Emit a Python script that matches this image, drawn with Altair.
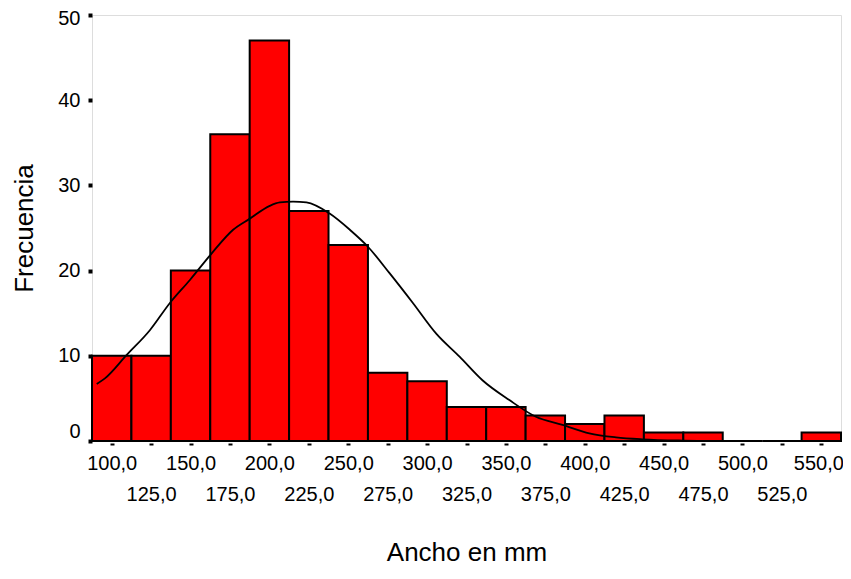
import altair as alt
import pandas as pd

# Histogram: bin centres (mm) and frequencies
bin_centers = [100, 125, 150, 175, 200, 225, 250, 275, 300, 325, 350, 375, 400, 425, 450, 475, 500, 525, 550]
counts = [10, 10, 20, 36, 47, 27, 23, 8, 7, 4, 4, 3, 2, 3, 1, 1, 0, 0, 1]
bin_width = 25

# Normal curve, points
curve_x = [90.5, 95.7, 109.5, 124.2, 136.9, 149.6, 163.3, 177, 187.6, 200.2, 206.6, 215, 223.5,
           238.2, 251, 262.5, 276.2, 291, 305.8, 320.6, 335.3, 352.2, 369, 385.9, 402.9, 419.8,
           436.7, 462, 485]
curve_y = [6.7, 7.35, 10.1, 13.0, 16.2, 18.9, 22.0, 24.8, 26.1, 27.6, 28.0, 28.1, 28.0,
           26.7, 24.8, 22.8, 19.7, 16.2, 12.6, 9.9, 7.1, 4.8, 2.85, 1.9, 0.9, 0.43,
           0.2, 0.05, 0.0]

y_ticks = [0, 10, 20, 30, 40, 50]

bars_df = pd.DataFrame({"center": bin_centers, "count": counts})
curve_df = pd.DataFrame({"x": curve_x, "y": curve_y})

FONT = "Liberation Sans"
x_scale = alt.Scale(domain=[87.5, 562.5], nice=False, zero=False)
y_scale = alt.Scale(domain=[0, 50], nice=False)

bars = alt.Chart(bars_df).transform_calculate(
    x0=f"datum.center - {bin_width}/2", x1=f"datum.center + {bin_width}/2"
).mark_rect(fill="#FF0000", stroke="black", strokeWidth=2).encode(
    x=alt.X("x0:Q", scale=x_scale,
            axis=alt.Axis(
                values=bin_centers,
                labelExpr="replace(format(datum.value, '.1f'), '.', ',')",
                domain=False, grid=False,
                tickSize=2, tickWidth=4, tickColor="black", offset=2,
                labelPadding={"condition": {"test": "datum.value % 50 != 0", "value": 39}, "value": 8},
                labelOffset={"condition": {"test": "datum.value == 550", "value": -3}, "value": 0},
                labelFont=FONT, labelFontSize=20, labelColor="black",
                title="Ancho en mm", titleFont=FONT, titleFontSize=26,
                titleFontWeight="normal", titleColor="black",
                titleBaseline="alphabetic", titleY=117,
            )),
    x2="x1:Q",
    y=alt.Y("count:Q", scale=y_scale,
            axis=alt.Axis(
                values=y_ticks, format="d", domain=False, grid=False,
                tickSize=4, tickWidth=4, tickColor="black",
                labelPadding=8, labelFont=FONT, labelFontSize=20, labelColor="black",
                labelBaseline={"condition": {"test": "datum.value == 0", "value": "bottom"}, "value": "middle"},
                labelOffset={"condition": {"test": "datum.value == 50", "value": 3}, "value": 0},
                title="Frecuencia", titleFont=FONT, titleFontSize=26,
                titleFontWeight="normal", titleColor="black",
                titleBaseline="alphabetic", titleX=-60,
            )),
    y2=alt.datum(0),
)

curve = alt.Chart(curve_df).mark_line(color="black", strokeWidth=1.8, interpolate="monotone").encode(
    x=alt.X("x:Q", scale=x_scale),
    y=alt.Y("y:Q", scale=y_scale),
)

chart = alt.layer(bars, curve).properties(
    width=749, height=426,
    autosize=alt.AutoSizeParams(type="none"),
    padding={"left": 84, "top": 7, "right": 2, "bottom": 125},
).configure_view(stroke="black", strokeWidth=2).configure(background="white")

chart.save("out.html", embed_options={"renderer": "svg", "actions": False})
